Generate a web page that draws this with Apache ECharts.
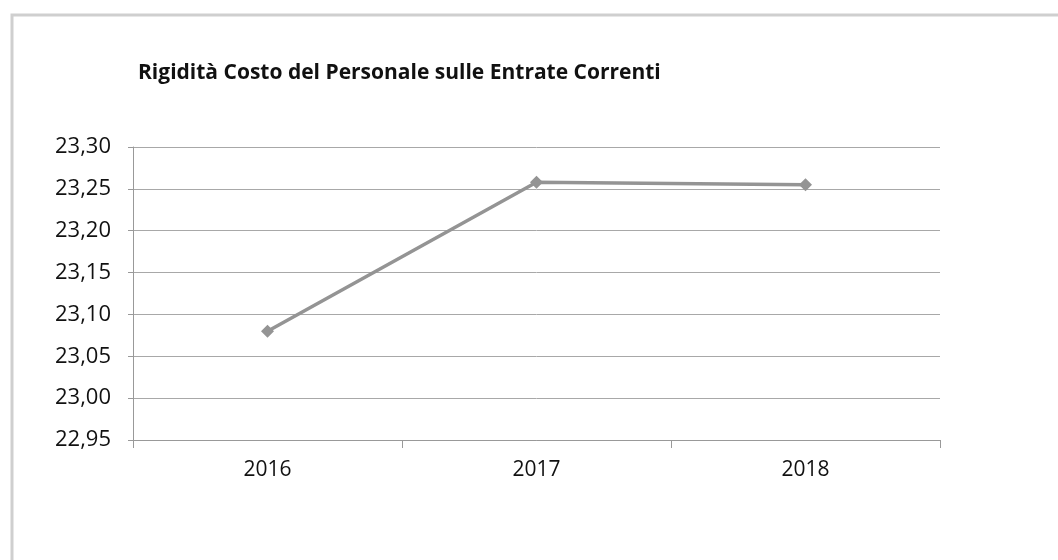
<!DOCTYPE html>
<html><head><meta charset="utf-8">
<script src="https://cdn.jsdelivr.net/npm/echarts@6/dist/echarts.min.js"></script>
<style>html,body{margin:0;padding:0;background:#fff}#c{width:1058px;height:560px}</style>
</head><body><div id="c"></div>
<script>
const categories = ['2016', '2017', '2018'];
const values = [23.08, 23.258, 23.255];
const title = 'Rigidità Costo del Personale sulle Entrate Correnti';
const yMin = 22.95, yMax = 23.30, yStep = 0.05;

const chart = echarts.init(document.getElementById('c'));
chart.setOption({
  animation: false,
  graphic: [{
    type: 'rect', shape: {x: 12, y: 15, width: 1100, height: 600},
    style: {fill: 'none', stroke: '#cfcfcf', lineWidth: 3}, z: -1
  }],
  title: {
    text: title, left: 133, top: 58,
    textStyle: {fontFamily: 'Open Sans', fontSize: 21, fontWeight: 'bold', color: '#111'}
  },
  grid: {left: 133, right: 118, top: 147, bottom: 120},
  xAxis: {
    type: 'category', data: categories, boundaryGap: true,
    axisLine: {lineStyle: {color: '#999', width: 1}},
    axisTick: {show: true, length: 8, lineStyle: {color: '#999'}},
    axisLabel: {fontFamily: 'Open Sans', fontSize: 21, color: '#111', margin: 20}
  },
  yAxis: {
    type: 'value', min: yMin, max: yMax, interval: yStep,
    axisLine: {show: true, lineStyle: {color: '#999', width: 1}},
    axisTick: {show: true, length: 5, lineStyle: {color: '#999'}},
    splitLine: {lineStyle: {color: '#a8a8a8', width: 1}},
    axisLabel: {
      fontFamily: 'Open Sans', fontSize: 22, color: '#111', margin: 22,
      formatter: v => v.toFixed(2).replace('.', ',')
    }
  },
  series: [{
    type: 'line', data: values,
    lineStyle: {color: '#949494', width: 3.5},
    itemStyle: {color: '#949494'},
    symbol: 'diamond', symbolSize: 13
  }]
});
</script></body></html>
